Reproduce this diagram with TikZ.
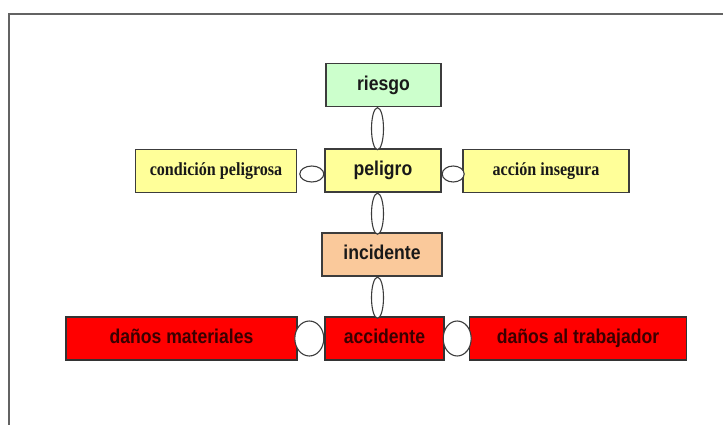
\documentclass[tikz,border=0pt]{standalone}
\usepackage{fontspec}
\usepackage{tikz}
\usetikzlibrary{shapes.geometric}
\newfontfamily\blocksans{Liberation Sans}[FakeStretch=0.88]
\newfontfamily\blockserif{Liberation Serif}[FakeStretch=0.87]
\definecolor{riesgocol}{HTML}{CCFFCC}
\definecolor{peligrocol}{HTML}{FFFF99}
\definecolor{incidentecol}{HTML}{FAC99B}
\definecolor{accidentecol}{HTML}{FF0000}
\definecolor{blockline}{HTML}{3C3C3C}
\definecolor{redtext}{HTML}{3A0000}

\begin{document}
\begin{tikzpicture}[x=1pt,y=-1pt,
  block/.style={draw=blockline, line width=1.3pt, inner sep=0pt, minimum height=43pt,
    text height=14.5pt, text depth=4pt,
    text=black!90, font=\blocksans\bfseries\fontsize{20}{24}\selectfont},
  serifblock/.style={block, text height=13pt, font=\blockserif\bfseries\fontsize{18.5}{22}\selectfont},
  redblock/.style={block, fill=accidentecol, draw=black!80, text=redtext},
  link/.style={ellipse, draw=blockline, line width=1.1pt, fill=white, inner sep=0pt}]
  \useasboundingbox (0,0) rectangle (723,425);
  % outer frame
  \draw[blockline!80, line width=1.3pt] (9,425) -- (9,14) -- (723,14);
  % middle column
  \node[block, fill=riesgocol, minimum width=115pt] (riesgo) at (383.5,85) {riesgo};
  \node[block, fill=peligrocol, minimum width=116pt] (peligro) at (383,170.5) {peligro};
  \node[block, fill=incidentecol, minimum width=120pt] (incidente) at (382,254.5) {incidente};
  \node[redblock, minimum width=119pt] (accidente) at (384.5,338.5) {accidente};
  % side blocks
  \node[serifblock, fill=peligrocol, minimum width=161pt] (condicion) at (216,171) {condición peligrosa};
  \node[serifblock, fill=peligrocol, minimum width=166pt] (accion) at (546,171) {acción insegura};
  \node[redblock, minimum width=231pt] (materiales) at (181.5,338.5) {daños materiales};
  \node[redblock, minimum width=217pt] (trabajador) at (578,338.5) {daños al trabajador};
  % links
  \node[link, minimum width=12pt, minimum height=42pt, anchor=north, xshift=-6pt] (l1) at (riesgo.south) {};
  \node[link, minimum width=12pt, minimum height=41pt, anchor=north, xshift=-5.5pt] (l2) at (peligro.south) {};
  \node[link, minimum width=12pt, minimum height=41pt, anchor=north, xshift=-4.5pt] (l3) at (incidente.south) {};
  \node[link, minimum width=24pt, minimum height=16pt, anchor=east, yshift=-3.5pt] (l4) at (peligro.west) {};
  \node[link, minimum width=22pt, minimum height=16pt, anchor=west, yshift=-3.5pt] (l5) at (peligro.east) {};
  \node[link, minimum width=29pt, minimum height=35pt, anchor=east] (l6) at (accidente.west) {};
  \node[link, minimum width=28pt, minimum height=35pt, anchor=west, xshift=-2pt] (l7) at (accidente.east) {};
\end{tikzpicture}
\end{document}
